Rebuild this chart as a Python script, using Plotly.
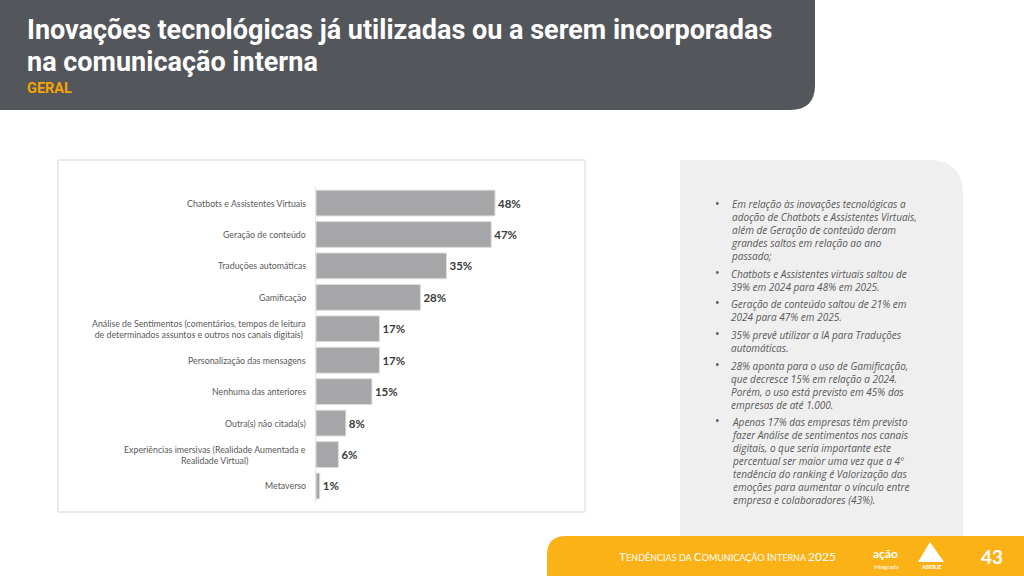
import plotly.graph_objects as go

# ---------------- data ----------------
categories = [
    "Chatbots e Assistentes Virtuais",
    "Geração de conteúdo",
    "Traduções automáticas",
    "Gamificação",
    "Análise de Sentimentos (comentários, tempos de leitura<br>de determinados assuntos e outros nos canais digitais)",
    "Personalização das mensagens",
    "Nenhuma das anteriores",
    "Outra(s) não citada(s)",
    "Experiências imersivas (Realidade Aumentada e<br>Realidade Virtual)",
    "Metaverso",
]
values = [48, 47, 35, 28, 17, 17, 15, 8, 6, 1]

title_lines = ["Inovações tecnológicas já utilizadas ou a serem incorporadas",
               "na comunicação interna"]
subtitle = "GERAL"

bullets = [
    ["Em relação às inovações tecnológicas a",
     "adoção de Chatbots e Assistentes Virtuais,",
     "além de Geração de conteúdo deram",
     "grandes saltos em relação ao ano",
     "passado;"],
    ["Chatbots e Assistentes virtuais saltou de",
     "39% em 2024 para 48% em 2025."],
    ["Geração de conteúdo saltou de 21% em",
     "2024 para 47% em 2025."],
    ["35% prevê utilizar a IA para Traduções",
     "automáticas."],
    ["28% aponta para o uso de Gamificação,",
     "que decresce 15% em relação a 2024.",
     "Porém, o uso está previsto em 45% das",
     "empresas de até 1.000."],
    ["Apenas 17% das empresas têm previsto",
     "fazer Análise de sentimentos nos canais",
     "digitais, o que seria importante este",
     "percentual ser maior uma vez que a 4º",
     "tendência do ranking é Valorização das",
     "emoções para aumentar o vínculo entre",
     "empresa e colaboradores (43%)."],
]
bullet_first_line_y = [203, 272, 302, 333, 364, 420]

page_number = "43"

# ---------------- helpers ----------------
W, H = 1024, 576
def px(x): return x / W
def py(y): return 1 - y / H

GRAY_TXT = "#595959"
ORANGE = "#fbb217"
TITLE_FONT = "Roboto"

fig = go.Figure(go.Bar(
    x=values, y=categories, orientation="h",
    marker=dict(color="#a6a6a8", line=dict(color="#dcdcdc", width=1)),
    width=0.82,
    text=values, texttemplate="<b>%{x}%</b>", textposition="outside",
    textfont=dict(family="Lato", size=11.5, color="#3a3a3a"),
    cliponaxis=False, hoverinfo="skip",
))

shapes = []
# header
shapes.append(dict(type="path", xref="paper", yref="paper", layer="above",
    path=f"M {px(0)},{py(0)} L {px(815)},{py(0)} L {px(815)},{py(85)} "
         f"Q {px(815)},{py(110)} {px(790)},{py(110)} L {px(0)},{py(110)} Z",
    fillcolor="#53565a", line=dict(width=0)))
# chart border
shapes.append(dict(type="rect", xref="paper", yref="paper", layer="below",
    x0=px(58), x1=px(585), y0=py(512), y1=py(160),
    line=dict(color="#d6d6d6", width=1), fillcolor="rgba(0,0,0,0)"))
# right panel
shapes.append(dict(type="path", xref="paper", yref="paper", layer="below",
    path=f"M {px(680)},{py(160)} L {px(928)},{py(160)} Q {px(963)},{py(160)} {px(963)},{py(195)} "
         f"L {px(963)},{py(536)} L {px(680)},{py(536)} Z",
    fillcolor="#efefef", line=dict(width=0)))
# footer
shapes.append(dict(type="path", xref="paper", yref="paper", layer="above",
    path=f"M {px(547)},{py(576)} L {px(547)},{py(555)} Q {px(547)},{py(536)} {px(566)},{py(536)} "
         f"L {px(1024)},{py(536)} L {px(1024)},{py(576)} Z",
    fillcolor=ORANGE, line=dict(width=0)))
# ABERJE logo triangle
shapes.append(dict(type="path", xref="paper", yref="paper", layer="above",
    path=f"M {px(918)},{py(562)} L {px(930)},{py(542)} L {px(944)},{py(562)} Z",
    fillcolor="white", line=dict(width=0)))

annotations = []
# title
annotations.append(dict(x=px(25), y=py(30), xref="paper", yref="paper", xanchor="left", yanchor="middle",
    text=f"<b>{title_lines[0]}</b>", showarrow=False,
    font=dict(family=TITLE_FONT, size=27, color="white")))
annotations.append(dict(x=px(25), y=py(62), xref="paper", yref="paper", xanchor="left", yanchor="middle",
    text=f"<b>{title_lines[1]}</b>", showarrow=False,
    font=dict(family=TITLE_FONT, size=27, color="white")))
annotations.append(dict(x=px(25), y=py(88), xref="paper", yref="paper", xanchor="left", yanchor="middle",
    text=f"<b>{subtitle}</b>", showarrow=False,
    font=dict(family=TITLE_FONT, size=14.5, color="#f5a400")))

# category labels
for c in categories:
    annotations.append(dict(x=0, y=c, xref="x", yref="y", xanchor="right", yanchor="middle",
        xshift=-8, text=c, align="center", showarrow=False,
        font=dict(family="Lato", size=8.8, color=GRAY_TXT)))

# bullets
for lines, yc in zip(bullets, bullet_first_line_y):
    annotations.append(dict(x=px(730), y=py(yc - 6.5), xref="paper", yref="paper",
        xanchor="left", yanchor="top", align="left", borderpad=0, showarrow=False,
        text="<i>" + "<br>".join(lines) + "</i>",
        font=dict(family="Open Sans", size=10, color=GRAY_TXT)))
    annotations.append(dict(x=px(717), y=py(yc), xref="paper", yref="paper",
        xanchor="center", yanchor="middle", showarrow=False, text="•",
        font=dict(family="Open Sans", size=12, color=GRAY_TXT)))

# footer text
def sc(word):
    return f'<span style="font-size:12px">{word[0]}</span>{word[1:]}'
footer_txt = " ".join([sc("TENDÊNCIAS"), "DA", sc("COMUNICAÇÃO"), sc("INTERNA"),
                       '<span style="font-size:12px">2025</span>'])
annotations.append(dict(x=px(727), y=py(556), xref="paper", yref="paper", xanchor="center", yanchor="middle",
    text=footer_txt, showarrow=False, font=dict(family="Lato", size=9, color="white")))
annotations.append(dict(x=px(885), y=py(553), xref="paper", yref="paper", xanchor="center", yanchor="middle",
    text="<b>ação</b>", showarrow=False, font=dict(family="Lato", size=12, color="white")))
annotations.append(dict(x=px(886), y=py(566), xref="paper", yref="paper", xanchor="center", yanchor="middle",
    text="integrada", showarrow=False, font=dict(family="Lato", size=6, color="white")))
annotations.append(dict(x=px(931), y=py(567), xref="paper", yref="paper", xanchor="center", yanchor="middle",
    text="<b>ABERJE</b>", showarrow=False, font=dict(family="Lato", size=5.5, color="white")))
annotations.append(dict(x=px(992), y=py(556), xref="paper", yref="paper", xanchor="center", yanchor="middle",
    text=f"<b>{page_number}</b>", showarrow=False, font=dict(family="Lato", size=19, color="white")))

fig.update_layout(
    width=W, height=H, margin=dict(l=0, r=0, t=0, b=0),
    paper_bgcolor="white", plot_bgcolor="rgba(0,0,0,0)",
    showlegend=False,
    xaxis=dict(domain=[px(316), px(577)], range=[0, 70], visible=False, fixedrange=True),
    yaxis=dict(domain=[py(501.7), py(187.3)], autorange="reversed", showticklabels=False,
               showgrid=False, zeroline=False, showline=True, linecolor="#e3e3e3", linewidth=1,
               ticks="", fixedrange=True),
    shapes=shapes, annotations=annotations,
)

fig.write_html("out.html", config={"displayModeBar": False})

# remove the browser's default 8px body margin so the figure fills the window exactly
with open("out.html", "r", encoding="utf-8") as f:
    html = f.read()
html = html.replace("<body>", '<body style="margin:0;overflow:hidden">', 1)
with open("out.html", "w", encoding="utf-8") as f:
    f.write(html)
